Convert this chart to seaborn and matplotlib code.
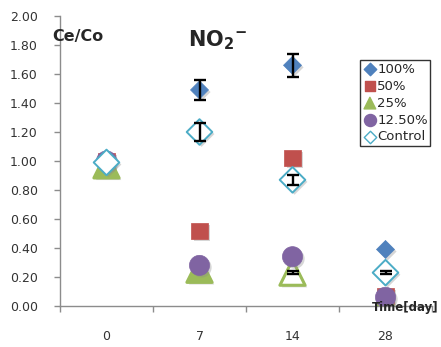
import matplotlib
matplotlib.use("Agg")
import matplotlib.pyplot as plt
import matplotlib.patheffects as pe
import numpy as np
import pandas as pd
import seaborn as sns

# Sampling days (categorical axis)
days = ["0", "7", "14", "28"]

# Relative NO2- concentration Ce/Co per treatment
conc_100 = [1.00, 1.49, 1.66, 0.39]
conc_50 = [1.00, 0.52, 1.02, 0.07]
conc_25 = [0.97, 0.25, 0.23, 0.02]
conc_12_5 = [1.00, 0.28, 0.34, 0.06]
conc_control = [0.99, 1.20, 0.87, 0.23]

# Standard deviations (0 where no bar is shown)
err_100 = [0.0, 0.07, 0.08, 0.0]
err_25 = [0.0, 0.0, 0.01, 0.0]
err_control = [0.0, 0.065, 0.035, 0.01]

labels = ["100%", "50%", "25%", "12.50%", "Control"]

sns.set_theme(style="white")
plt.rcParams["font.family"] = ["DejaVu Sans"]
plt.rcParams["mathtext.default"] = "regular"

fig = plt.figure(figsize=(4.41, 3.47), dpi=100)
ax = fig.add_axes([60 / 441, 41 / 347, 372 / 441, 290 / 347])

xpos = np.arange(len(days))
shadow = [pe.SimplePatchShadow(offset=(1.5, -1.5), shadow_rgbFace="0.55", alpha=0.35), pe.Normal()]

series = [
    (conc_100, dict(marker="D", s=84, color="#4F81BD", edgecolor="#4F81BD", linewidth=0.5)),
    (conc_50, dict(marker="s", s=135, color="#C0504D", edgecolor="#C0504D", linewidth=0.5)),
    (conc_25, dict(marker="^", s=330, color="#9BBB59", edgecolor="#9BBB59", linewidth=0.5)),
    (conc_12_5, dict(marker="o", s=210, color="#8064A2", edgecolor="#8064A2", linewidth=0.5)),
    (conc_control, dict(marker="D", s=170, color="white", edgecolor="#4BACC6", linewidth=1.4)),
]
legend_sizes = [40, 50, 70, 75, 40]

errors = {0: err_100, 2: err_25, 4: err_control}

for i, (vals, kw) in enumerate(series):
    df = pd.DataFrame({"day": xpos, "value": vals})
    sns.scatterplot(data=df, x="day", y="value", ax=ax, label=labels[i], zorder=3 + i, **kw)
    coll = ax.collections[-1]
    if i == 2:
        # 25% markers at the later days are drawn open
        coll.set_facecolors(["#9BBB59", "#9BBB59", "white", "white"])
        coll.set_linewidth(2.2)
    coll.set_path_effects(shadow)
    if i in errors:
        e = np.array(errors[i])
        m = e > 0
        ax.errorbar(xpos[m], np.array(vals)[m], yerr=e[m], fmt="none", ecolor="black",
                    elinewidth=1.7, capsize=4, capthick=1.7, zorder=3 + i + 0.5)

ax.set_xlim(-0.5, 3.5)
ax.set_ylim(0, 2.0)
ax.set_xlabel("")
ax.set_ylabel("")

yt = np.arange(0, 2.01, 0.2)
ax.set_yticks(yt)
ax.set_yticklabels([f"{v:.2f}" for v in yt])
ax.set_xticks(xpos)
ax.set_xticklabels(days)
ax.set_xticks(np.arange(-0.5, 3.6, 1.0), minor=True)

for side in ["top", "right"]:
    ax.spines[side].set_visible(False)
for side in ["left", "bottom"]:
    ax.spines[side].set_color("#8C8C8C")
    ax.spines[side].set_linewidth(1.0)

ax.tick_params(axis="y", which="major", direction="out", length=4, width=1, color="#8C8C8C",
               labelsize=9, labelcolor="#333333", pad=12, left=True)
ax.tick_params(axis="x", which="major", length=0, labelsize=9, labelcolor="#333333", pad=17)
ax.tick_params(axis="x", which="minor", direction="out", length=4, width=1, color="#8C8C8C", bottom=True)

leg = ax.legend(loc="upper left", bbox_to_anchor=(360 / 441, 1 - 60 / 347),
                bbox_transform=fig.transFigure, fontsize=9.5, frameon=True, fancybox=False,
                edgecolor="black", borderpad=0.2, handletextpad=0.0, labelspacing=0.3,
                borderaxespad=0, handlelength=1.1)
leg.get_frame().set_linewidth(1.0)
for h, sz in zip(leg.legend_handles, legend_sizes):
    h.set_path_effects([])
    h.set_sizes([sz])
    h.set_linewidth(1.0)

fig.text(52 / 441, 1 - 36 / 347, "Ce/Co", fontsize=11.5, fontweight="bold", ha="left", va="center")
fig.text(188 / 441, 1 - 40 / 347, "NO$_2$$^{-}$", fontsize=15, fontweight="bold", ha="left", va="center")
fig.text(372 / 441, 1 - 307 / 347, "Time[day]", fontsize=8.5, fontweight="bold", ha="left",
         va="center", zorder=20)

fig.savefig("out.png", dpi=100)
